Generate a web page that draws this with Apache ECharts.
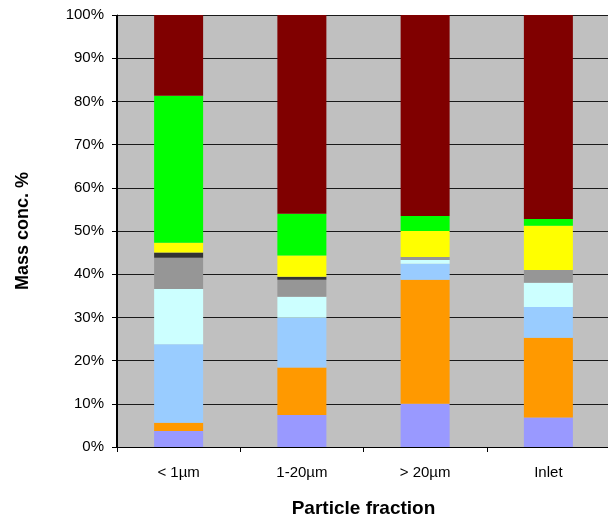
<!DOCTYPE html>
<html>
<head>
<meta charset="utf-8">
<script src="https://cdn.jsdelivr.net/npm/echarts@6/dist/echarts.min.js"></script>
<style>
  html, body { margin: 0; padding: 0; background: #fff; }
  #chart { width: 608px; height: 516px; }
</style>
</head>
<body>
<div id="chart"></div>
<script>
// Particle size fractions on the category axis
const categories = ['< 1µm', '1-20µm', '> 20µm', 'Inlet'];

// Mass share (%) of each component, bottom of the stack first
const violet    = [3.7, 7.4, 10.0, 6.8];
const orange    = [1.9, 11.0, 28.7, 18.5];
const skyBlue   = [18.2, 11.5, 3.7, 7.1];
const paleCyan  = [12.8, 4.9, 0.9, 5.6];
const grey      = [7.2, 3.9, 0.7, 3.0];
const charcoal  = [1.2, 0.7, 0.0, 0.0];
const yellow    = [2.3, 4.9, 6.0, 10.2];
const green     = [34.0, 9.7, 3.5, 1.6];
const maroon    = [18.7, 46.0, 46.5, 47.2];

const yTicks = [0, 10, 20, 30, 40, 50, 60, 70, 80, 90, 100];

const layers = [
  { name: 'violet',   data: violet,   color: '#9999FF' },
  { name: 'orange',   data: orange,   color: '#FF9900' },
  { name: 'skyBlue',  data: skyBlue,  color: '#99CCFF' },
  { name: 'paleCyan', data: paleCyan, color: '#CCFFFF' },
  { name: 'grey',     data: grey,     color: '#969696' },
  { name: 'charcoal', data: charcoal, color: '#333333' },
  { name: 'yellow',   data: yellow,   color: '#FFFF00' },
  { name: 'green',    data: green,    color: '#00FF00' },
  { name: 'maroon',   data: maroon,   color: '#800000' }
];

const chart = echarts.init(document.getElementById('chart'), null, { renderer: 'canvas' });

const series = layers.map(l => ({
  name: l.name,
  type: 'bar',
  stack: 'total',
  barWidth: 49,
  data: l.data,
  itemStyle: { color: l.color },
  emphasis: { disabled: true }
}));

chart.setOption({
  animation: false,
  textStyle: { fontFamily: 'Liberation Sans, Arial, sans-serif' },
  grid: {
    left: 117, top: 15, width: 493, height: 432,
    outerBoundsMode: 'none',
    containLabel: false,
    show: true, backgroundColor: '#C0C0C0', borderWidth: 0
  },
  xAxis: {
    type: 'category',
    data: categories,
    name: 'Particle fraction',
    nameLocation: 'middle',
    nameGap: 52,
    nameTextStyle: { fontSize: 19, fontWeight: 'bold', color: '#000' },
    axisLine: { lineStyle: { color: '#000', width: 1 } },
    axisTick: { show: true, length: 5, lineStyle: { color: '#000' } },
    axisLabel: { fontSize: 15, color: '#000', margin: 18 },
    splitLine: {
      show: true,
      interval: (index) => index === 3,
      lineStyle: { color: '#000', width: 2 }
    }
  },
  yAxis: {
    type: 'value',
    min: yTicks[0],
    max: yTicks[yTicks.length - 1],
    interval: 10,
    name: 'Mass conc. %',
    nameLocation: 'middle',
    nameGap: 85,
    nameTextStyle: { fontSize: 18, fontWeight: 'bold', color: '#000' },
    axisLine: { show: true, lineStyle: { color: '#000', width: 1 } },
    axisTick: { show: true, length: 5, lineStyle: { color: '#000' } },
    axisLabel: { fontSize: 15, color: '#000', margin: 13, formatter: '{value}%' },
    splitLine: { show: true, lineStyle: { color: '#1a1a1a', width: 1 } }
  },
  series: series
});
</script>
</body>
</html>
